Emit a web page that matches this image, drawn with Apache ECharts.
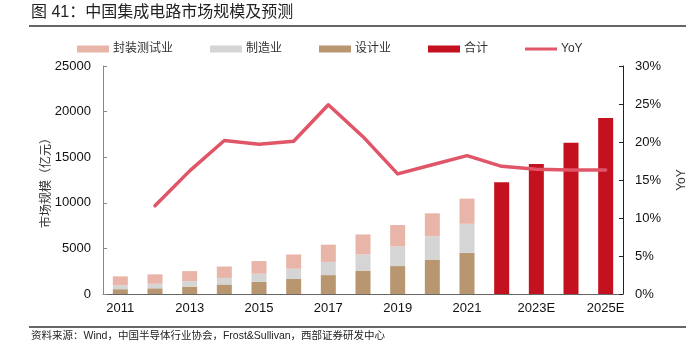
<!DOCTYPE html>
<html>
<head>
<meta charset="utf-8">
<script src="https://cdn.jsdelivr.net/npm/echarts@6/dist/echarts.min.js"></script>
<style>html,body{margin:0;padding:0;background:#fff}#c{width:690px;height:354px}</style>
</head>
<body>
<div id="c"></div>
<script>
const categories = ['2011','2012','2013','2014','2015','2016','2017','2018','2019','2020','2021','2022','2023E','2024E','2025E'];
const designData = [526.4, 621.7, 808.8, 1047.4, 1325, 1644.3, 2073.5, 2519.3, 3063.5, 3778.4, 4519, null, null, null, null];
const mfgData = [431.6, 501.1, 600.9, 712.1, 900.8, 1126.9, 1448.1, 1818.2, 2149.1, 2560.1, 3176.3, null, null, null, null];
const packData = [975.7, 1035.7, 1098.8, 1255.9, 1384, 1564.3, 1889.7, 2193.9, 2349.7, 2509.5, 2763, null, null, null, null];
const totalData = [null, null, null, null, null, null, null, null, null, null, null, 12250, 14260, 16590, 19300];
const yoyData = [null, 11.6, 16.2, 20.2, 19.7, 20.1, 24.9, 20.7, 15.8, 17.0, 18.2, 16.8, 16.4, 16.3, 16.3];
const leftTicks = {min: 0, max: 25000, interval: 5000};
const rightTicks = {min: 0, max: 30, interval: 5};

const FONT = "'Liberation Sans', 'Noto Sans CJK SC', sans-serif";
const chart = echarts.init(document.getElementById('c'), null, {renderer: 'canvas'});
chart.setOption({
  animation: false,
  textStyle: {fontFamily: FONT},
  graphic: [
    {type: 'text', left: 31, top: 5, style: {text: '图 41：中国集成电路市场规模及预测', fontSize: 16, fontFamily: FONT, fill: '#222'}},
    {type: 'line', shape: {x1: 29, y1: 26, x2: 686, y2: 26}, style: {stroke: '#333', lineWidth: 1.3}},
    {type: 'line', shape: {x1: 29, y1: 327, x2: 686, y2: 327}, style: {stroke: '#333', lineWidth: 1.3}},
    {type: 'text', left: 31, top: 331, style: {text: '资料来源：Wind，中国半导体行业协会，Frost&Sullivan，西部证券研发中心', fontSize: 10.5, fontFamily: FONT, fill: '#222'}}
  ],
  legend: {
    left: 77, top: 43, padding: 0,
    itemWidth: 32, itemHeight: 7, itemGap: 37,
    textStyle: {fontSize: 12, color: '#333', padding: [0, 0, 0, -1]},
    data: [
      {name: '封装测试业', icon: 'rect'},
      {name: '制造业', icon: 'rect'},
      {name: '设计业', icon: 'rect'},
      {name: '合计', icon: 'rect'},
      {name: 'YoY', icon: 'path://M0,0 M32,7 M0,2 L32,2 L32,5 L0,5 Z'}
    ]
  },
  grid: {left: 103, right: 67, top: 66, bottom: 60, containLabel: false, outerBoundsMode: 'none'},
  xAxis: {
    type: 'category', data: categories, boundaryGap: true,
    axisLine: {lineStyle: {color: '#666', width: 1}},
    axisTick: {inside: true, length: 3, interval: 0, lineStyle: {color: '#666'}},
    axisLabel: {interval: 1, color: '#111', fontSize: 13, margin: 8}
  },
  yAxis: [
    {
      type: 'value', min: leftTicks.min, max: leftTicks.max, interval: leftTicks.interval,
      name: '市场规模（亿元）', nameLocation: 'middle', nameGap: 50, nameRotate: 90, nameMoveOverlap: false,
      nameTextStyle: {fontSize: 12, color: '#333'},
      axisLine: {show: true, lineStyle: {color: '#888'}},
      axisTick: {show: true, inside: true, length: 4, lineStyle: {color: '#888'}},
      axisLabel: {color: '#111', fontSize: 13, margin: 12, formatter: function (v) { return String(v); }},
      splitLine: {show: false}
    },
    {
      type: 'value', min: rightTicks.min, max: rightTicks.max, interval: rightTicks.interval,
      name: 'YoY', nameLocation: 'middle', nameGap: 53, nameRotate: 90, nameMoveOverlap: false,
      nameTextStyle: {fontSize: 12, color: '#333'},
      axisLine: {show: true, lineStyle: {color: '#222'}},
      axisTick: {show: true, inside: true, length: 4, lineStyle: {color: '#222'}},
      axisLabel: {color: '#111', fontSize: 13, margin: 12, formatter: '{value}%'},
      splitLine: {show: false}
    }
  ],
  series: [
    {name: '设计业', type: 'bar', stack: 'a', barWidth: 15, barGap: '-100%', itemStyle: {color: '#b8966f'}, data: designData, z: 2},
    {name: '制造业', type: 'bar', stack: 'a', barWidth: 15, barGap: '-100%', itemStyle: {color: '#d5d5d5'}, data: mfgData, z: 2},
    {name: '封装测试业', type: 'bar', stack: 'a', barWidth: 15, barGap: '-100%', itemStyle: {color: '#e9b5a8'}, data: packData, z: 2},
    {name: '合计', type: 'bar', barWidth: 15, barGap: '-100%', itemStyle: {color: '#c3111f'}, data: totalData, z: 2},
    {name: 'YoY', type: 'line', yAxisIndex: 1, symbol: 'none', showSymbol: false, data: yoyData, z: 5,
     itemStyle: {color: '#e05567'}, lineStyle: {color: '#e05567', width: 3.5, cap: 'round', join: 'round'}}
  ]
});
</script>
</body>
</html>
